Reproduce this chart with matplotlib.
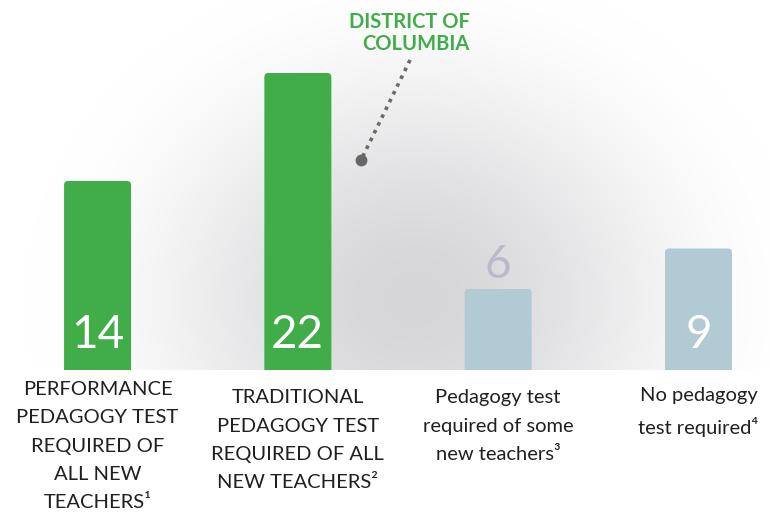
import matplotlib.pyplot as plt
from matplotlib.patches import FancyBboxPatch
import numpy as np

plt.rcParams['font.family'] = ['Lato', 'DejaVu Sans']

categories = [
    "PERFORMANCE\nPEDAGOGY TEST\nREQUIRED OF\nALL NEW\nTEACHERS¹",
    "TRADITIONAL\nPEDAGOGY TEST\nREQUIRED OF ALL\nNEW TEACHERS²",
    "Pedagogy test\nrequired of some\nnew teachers³",
    "No pedagogy\ntest required⁴",
]
values = [14, 22, 6, 9]
bar_colors = ["#41ad49", "#41ad49", "#b2cad3", "#b2cad3"]
label_inside = [True, True, False, True]
callout_text = "DISTRICT OF\nCOLUMBIA"

GREEN = "#41ad49"
TEXT = "#231f20"

fig = plt.figure(figsize=(7.7, 5.14), dpi=100)
fig.patch.set_facecolor("white")
ax = fig.add_axes([0, (514 - 370) / 514, 1, 370 / 514])

xmin, xmax = -0.487, 3.357
ymax = 370 / 13.5
ax.set_xlim(xmin, xmax)
ax.set_ylim(0, ymax)
ax.axis("off")

# soft radial glow behind the bars
gx = np.linspace(0, 770, 400)
gy = np.linspace(0, 370, 200)
X, Y = np.meshgrid(gx, gy)
d = np.sqrt(((X - 415) / 390) ** 2 + ((Y - 70) / 340) ** 2)
t = np.clip(1 - d, 0, 1)
t = t * t * (3 - 2 * t)
shade = 1 - t * 0.16
img = np.dstack([shade, shade, shade + t * 0.012])
ax.imshow(np.clip(img, 0, 1), extent=(xmin, xmax, 0, ymax), origin="lower",
          aspect="auto", zorder=0, interpolation="bilinear")

# bars with slightly rounded tops
px_x = 200.3
px_y = 13.5
width = 67 / px_x
for i, (v, c) in enumerate(zip(values, bar_colors)):
    box = FancyBboxPatch((i - width / 2, -1), width, v + 1,
                         boxstyle="round,pad=0,rounding_size=%f" % (4 / px_x),
                         mutation_aspect=px_x / px_y,
                         facecolor=c, edgecolor="none", zorder=2)
    ax.add_patch(box)

# value labels
for i, (v, inside) in enumerate(zip(values, label_inside)):
    if inside:
        ax.text(i, 35 / px_y, str(v), ha="center", va="center",
                fontsize=33, color="white", zorder=3)
    else:
        ax.annotate(str(v), xy=(i, v), xytext=(0, 17), textcoords="offset points",
                    ha="center", va="center", fontsize=33, color="#bdb8c9", zorder=3)

# category labels
label_offsets = [-8, -14, -14, -12]
for i, (lab, off) in enumerate(zip(categories, label_offsets)):
    ax.annotate(lab, xy=(i, 0), xytext=(0, off), textcoords="offset points",
                ha="center", va="top", fontsize=14.5, color=TEXT,
                linespacing=1.8, annotation_clip=False)

# District of Columbia callout
ax.text((470 - 97.5) / px_x, (370 - 33) / px_y, callout_text,
        ha="right", va="center", fontsize=14.5, fontweight="bold",
        color=GREEN, linespacing=1.1, zorder=4)
dot_x, dot_y = (361 - 97.5) / px_x, (370 - 160) / px_y
ax.plot([(410 - 97.5) / px_x, dot_x], [(370 - 60) / px_y, dot_y],
        linestyle=(0, (1, 1.4)), lw=2.6, color="#6a6a6a", zorder=4)
ax.plot([dot_x], [dot_y], "o", ms=7.5, color="#666666", zorder=5)

fig.savefig("out.png", dpi=100)
